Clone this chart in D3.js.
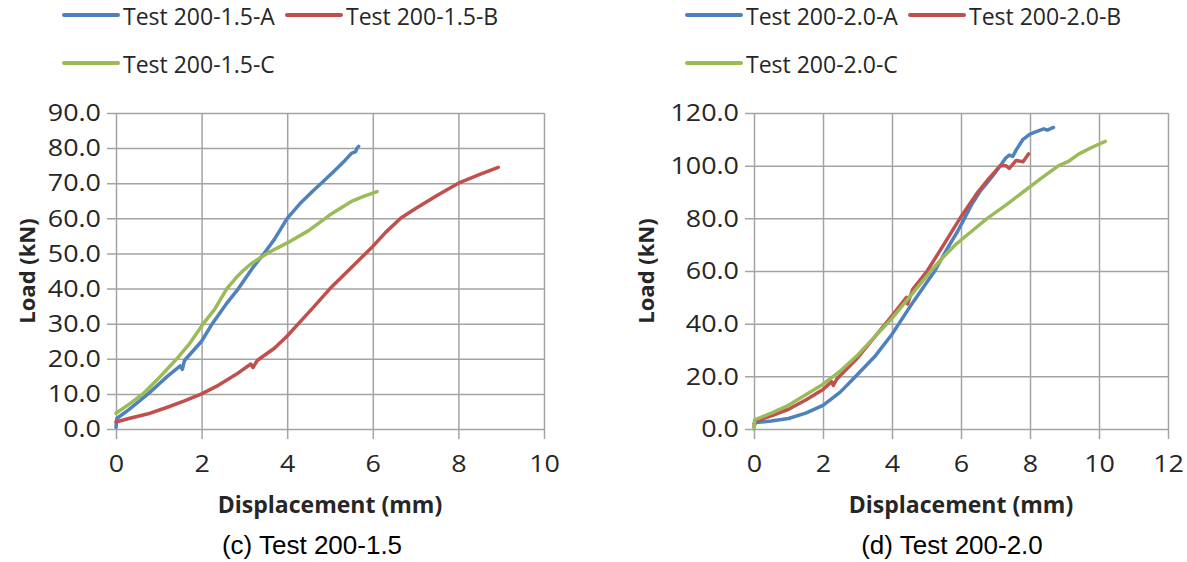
<!DOCTYPE html>
<html>
<head>
<meta charset="utf-8">
<script src="https://cdn.jsdelivr.net/npm/d3@7"></script>
<style>
    body { margin: 0; background: #fff; }
    svg text { font-family: "Open Sans", sans-serif; fill: #262626; }
    svg text.caption { font-family: "Liberation Sans", Arial, sans-serif; fill: #000; }
</style>
</head>
<body>
<div id="chart"></div>
<script>
// ---- data: [displacement (mm), load (kN)] ----
const namesC = ['Test 200-1.5-A', 'Test 200-1.5-B', 'Test 200-1.5-C'];
const namesD = ['Test 200-2.0-A', 'Test 200-2.0-B', 'Test 200-2.0-C'];
const seriesColors = ['#4F81BD', '#C0504D', '#9BBB59'];

const test15A = [[0, 0.5], [0.02, 3], [0.3, 5.5], [0.75, 10], [1.2, 15], [1.5, 18], [1.55, 17], [1.6, 19.5],
    [2.0, 25], [2.25, 30], [2.6, 36], [2.86, 40], [3.2, 46], [3.46, 50], [3.7, 54], [4.0, 60], [4.3, 64.2],
    [4.6, 67.8], [4.84, 70.5], [5.1, 73.5], [5.35, 76.5], [5.5, 78.5], [5.6, 79], [5.63, 80], [5.67, 80.5]];
const test15B = [[0, 2], [0.3, 3], [0.8, 4.5], [1.2, 6.2], [1.6, 8], [2.0, 10], [2.4, 12.5], [2.8, 15.5],
    [3.15, 18.5], [3.2, 17.5], [3.3, 19.5], [3.7, 23], [4.0, 26.5], [4.3, 30.5], [4.6, 34.5], [5.0, 40],
    [5.5, 46], [6.0, 52], [6.3, 56], [6.65, 60], [7.0, 62.8], [7.5, 66.5], [8.0, 70], [8.5, 72.5], [8.93, 74.5]];
const test15C = [[0, 4.5], [0.3, 7], [0.63, 10], [1.0, 14.5], [1.42, 20], [1.7, 24], [2.04, 30], [2.3, 34],
    [2.59, 40], [2.8, 43], [2.96, 45], [3.15, 47], [3.4, 49], [3.6, 50.5], [4.0, 53], [4.5, 56.5], [5.0, 61],
    [5.5, 64.8], [5.8, 66.3], [6.0, 67.2], [6.1, 67.6]];

const test20A = [[0, 1], [0.05, 2.5], [0.5, 3], [1.0, 4], [1.5, 6], [2.0, 9], [2.5, 14], [2.95, 20], [3.5, 27.5],
    [4.0, 36], [4.5, 46], [5.0, 55.5], [5.24, 60], [5.45, 65], [5.67, 70], [5.9, 75], [6.1, 80], [6.3, 85],
    [6.54, 90], [6.85, 95], [7.14, 100], [7.3, 103], [7.4, 104], [7.5, 103.5], [7.6, 106], [7.8, 110],
    [8.0, 112], [8.2, 113], [8.4, 114], [8.5, 113.5], [8.68, 114.5]];
const test20B = [[0, 2], [0.05, 3], [0.5, 5], [1.0, 7.5], [1.5, 11], [2.0, 15], [2.25, 18], [2.3, 16.5],
    [2.4, 19], [3.0, 27], [3.5, 35], [4.0, 43], [4.42, 50], [4.45, 47.5], [4.6, 53], [5.02, 60], [5.5, 70],
    [5.97, 80], [6.49, 90], [6.8, 95], [7.14, 100], [7.3, 100], [7.4, 99], [7.6, 102], [7.8, 101.5], [7.96, 104.5]];
const test20C = [[0, 0], [0.02, 3.5], [0.5, 6], [1.0, 9], [1.5, 13], [2.0, 17], [2.5, 22], [3.0, 28], [3.5, 35],
    [4.0, 42], [4.5, 50], [5.13, 60], [5.5, 65.5], [5.84, 70], [6.3, 75], [6.76, 80], [7.3, 85], [7.8, 90],
    [8.3, 95], [8.83, 100], [9.1, 101.5], [9.42, 104.5], [9.8, 107], [10.18, 109.2]];

const xTicksC = [0, 2, 4, 6, 8, 10];
const yTicksC = [0, 10, 20, 30, 40, 50, 60, 70, 80, 90];
const xTicksD = [0, 2, 4, 6, 8, 10, 12];
const yTicksD = [0, 20, 40, 60, 80, 100, 120];

const gridColor = '#a3a3a3';
const width = 1187;
const height = 562;
const labelStretch = 1.12; // tick labels in the picture are a little wider than the font

const svg = d3.select('#chart')
    .append('svg')
    .attr('width', width)
    .attr('height', height);

function drawPanel(p) {
    const g = svg.append('g');
    const x = d3.scaleLinear().domain([0, p.xTicks[p.xTicks.length - 1]]).range([p.left, p.right]);
    const y = d3.scaleLinear().domain([0, p.yTicks[p.yTicks.length - 1]]).range([p.bottom, p.top]);
    const w = p.right - p.left;
    const h = p.bottom - p.top;

    // horizontal gridlines with small outward ticks
    const yAxis = g.append('g')
        .attr('transform', `translate(${p.left},0)`)
        .call(d3.axisLeft(y).tickValues(p.yTicks).tickFormat(d3.format('.1f'))
            .tickSizeInner(-w).tickSizeOuter(0));
    yAxis.select('.domain').remove();
    yAxis.selectAll('line').attr('x1', -9).attr('stroke', gridColor).attr('stroke-width', 1.5);
    yAxis.selectAll('text')
        .attr('x', 0)
        .attr('transform', `translate(-15,0) scale(${labelStretch},1)`)
        .style('font-size', '24px');

    // vertical gridlines
    const xAxis = g.append('g')
        .attr('transform', `translate(0,${p.bottom})`)
        .call(d3.axisBottom(x).tickValues(p.xTicks)
            .tickSizeInner(-h).tickSizeOuter(0).tickPadding(26));
    xAxis.select('.domain').remove();
    xAxis.selectAll('line').attr('y1', 10).attr('stroke', gridColor).attr('stroke-width', 1.5);
    xAxis.selectAll('text')
        .attr('transform', `scale(${labelStretch},1)`)
        .style('font-size', '24px');

    // the three curves
    const line = d3.line().x(d => x(d[0])).y(d => y(d[1]));
    g.append('g')
        .selectAll('path')
        .data(p.series)
        .join('path')
        .attr('d', line)
        .attr('fill', 'none')
        .attr('stroke', (d, i) => seriesColors[i])
        .attr('stroke-width', 3.5)
        .attr('stroke-linejoin', 'round')
        .attr('stroke-linecap', 'round');

    // legend
    const leg = g.append('g')
        .selectAll('g')
        .data(p.names)
        .join('g')
        .attr('transform', (d, i) => `translate(${p.legend[i][0]},${p.legend[i][1]})`);
    leg.append('line')
        .attr('x1', 0).attr('x2', 54)
        .attr('stroke', (d, i) => seriesColors[i])
        .attr('stroke-width', 4)
        .attr('stroke-linecap', 'round');
    leg.append('text')
        .attr('x', 59)
        .attr('y', 9.5)
        .style('font-size', '23px')
        .text(d => d);

    // axis titles
    g.append('text')
        .attr('transform', `translate(${p.yTitleX},${(p.top + p.bottom) / 2}) rotate(-90)`)
        .attr('text-anchor', 'middle')
        .attr('dy', '0.35em')
        .style('font-size', '22px')
        .style('font-weight', 'bold')
        .text('Load (kN)');
    g.append('text')
        .attr('x', (p.left + p.right) / 2)
        .attr('y', 513)
        .attr('text-anchor', 'middle')
        .style('font-size', '23px')
        .style('font-weight', 'bold')
        .text('Displacement (mm)');

    // caption under the chart
    g.append('text')
        .attr('class', 'caption')
        .attr('x', p.captionX)
        .attr('y', 554)
        .attr('text-anchor', 'middle')
        .style('font-size', '26px')
        .text(p.caption);
}

drawPanel({
    left: 116, right: 544, top: 113, bottom: 429,
    xTicks: xTicksC, yTicks: yTicksC,
    series: [test15A, test15B, test15C], names: namesC,
    legend: [[64, 15], [287, 15], [64, 63]],
    yTitleX: 27, captionX: 312, caption: '(c) Test 200-1.5'
});

drawPanel({
    left: 754, right: 1168, top: 113, bottom: 429,
    xTicks: xTicksD, yTicks: yTicksD,
    series: [test20A, test20B, test20C], names: namesD,
    legend: [[687, 15], [910, 15], [687, 63]],
    yTitleX: 646, captionX: 952, caption: '(d) Test 200-2.0'
});
</script>
</body>
</html>
